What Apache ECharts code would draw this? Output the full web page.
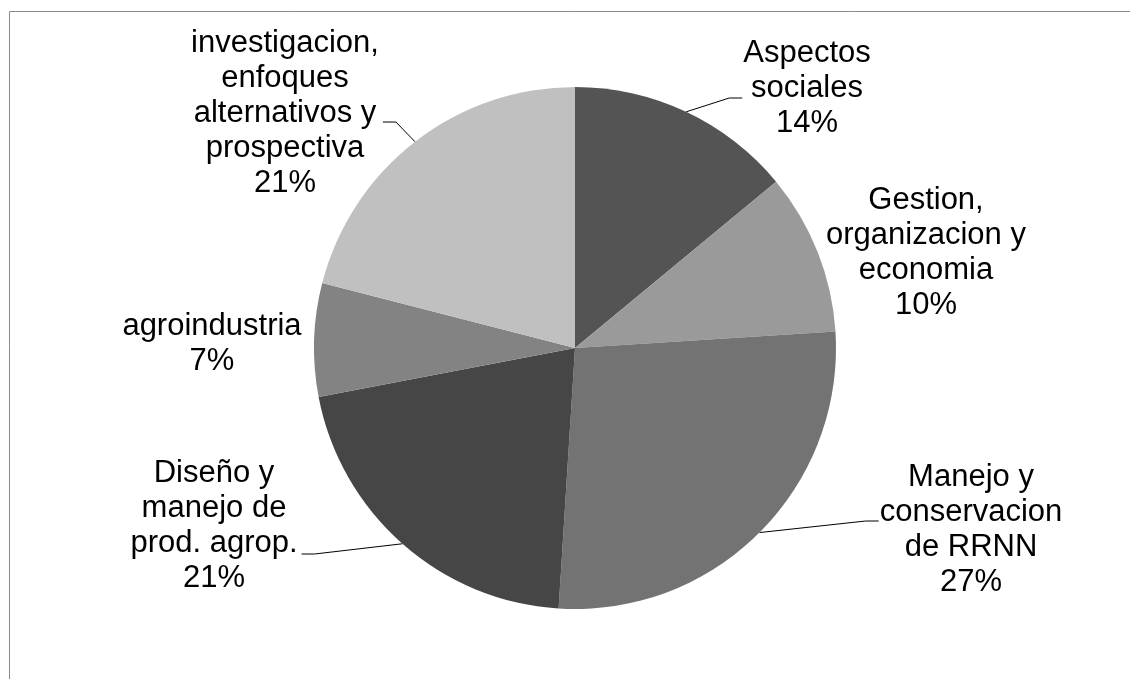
<!DOCTYPE html>
<html>
<head>
<meta charset="utf-8">
<script src="https://cdn.jsdelivr.net/npm/echarts@6/dist/echarts.min.js"></script>
<style>
  html, body { margin: 0; padding: 0; background: #fff; overflow: hidden; }
  #main { width: 1130px; height: 679px; }
</style>
</head>
<body>
<div id="main"></div>
<script>
// categories (as wrapped in the original chart) and their shares
var categories = [
  "Aspectos\nsociales",
  "Gestion,\norganizacion y\neconomia",
  "Manejo y\nconservacion\nde RRNN",
  "Diseño y\nmanejo de\nprod. agrop.",
  "agroindustria",
  "investigacion,\nenfoques\nalternativos y\nprospectiva"
];
var values = [14, 10, 27, 21, 7, 21];
var colors = ["#545454", "#9a9a9a", "#737373", "#464646", "#838383", "#c0c0c0"];

// where each label sits: [centerX, centerY, leader y, side] (side 0 = no leader)
var labelPos = [
  [807, 88, 98, 1],
  [926, 253, 0, 0],
  [971, 530, 521, 1],
  [214, 526, 554, -1],
  [212, 344, 0, 0],
  [285, 113, 122, -1]
];

var myChart = echarts.init(document.getElementById("main"));

var data = categories.map(function (c, i) {
  return {
    name: c,
    value: values[i],
    itemStyle: { color: colors[i] },
    labelLine: { show: labelPos[i][3] !== 0 }
  };
});

myChart.setOption({
  animation: false,
  graphic: [
    {
      type: "rect",
      shape: { x: 9.5, y: 11.5, width: 1300, height: 900 },
      style: { fill: "none", stroke: "#8a8a8a", lineWidth: 1 },
      silent: true
    }
  ],
  series: [
    {
      type: "pie",
      center: [575, 348],
      radius: 261,
      startAngle: 90,
      clockwise: true,
      avoidLabelOverlap: false,
      percentPrecision: 0,
      data: data,
      itemStyle: { borderWidth: 0 },
      label: {
        show: true,
        formatter: "{b}\n{d}%",
        color: "#000",
        fontFamily: "Liberation Sans, Arial, sans-serif",
        fontSize: 31,
        lineHeight: 35,
        align: "center"
      },
      labelLine: {
        show: true,
        length: 20,
        length2: 10,
        lineStyle: { color: "#000", width: 1 }
      },
      labelLayout: function (params) {
        var p = labelPos[params.dataIndex];
        var out = { x: p[0], y: p[1], align: "center", verticalAlign: "middle" };
        if (p[3] !== 0 && params.labelLinePoints) {
          var start = params.labelLinePoints[0];
          var half = params.labelRect.width / 2;
          var endX = p[3] > 0 ? p[0] - half - 1 : p[0] + half + 4;
          var bendX = endX - p[3] * 13;
          out.labelLinePoints = [start, [bendX, p[2]], [endX, p[2]]];
        }
        return out;
      }
    }
  ]
});
</script>
</body>
</html>
